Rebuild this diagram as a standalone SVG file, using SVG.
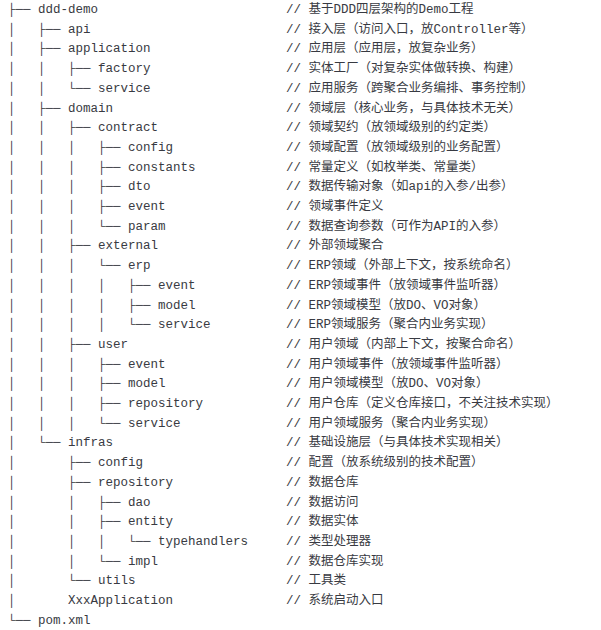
<svg xmlns="http://www.w3.org/2000/svg" width="601" height="630" viewBox="0 0 601 630">
<style>
text{font-family:"Liberation Mono","Noto Sans CJK SC",monospace;font-size:12.5px;fill:#383a42;white-space:pre}
</style>
<rect width="601" height="630" fill="#ffffff"/>
<g id="tree" xml:space="preserve">
<text x="8" y="13">├── ddd-demo</text>
<text x="8" y="32.7">│   ├── api</text>
<text x="8" y="52.4">│   ├── application</text>
<text x="8" y="72.1">│   │   ├── factory</text>
<text x="8" y="91.8">│   │   └── service</text>
<text x="8" y="111.5">│   ├── domain</text>
<text x="8" y="131.2">│   │   ├── contract</text>
<text x="8" y="150.9">│   │   │   ├── config</text>
<text x="8" y="170.6">│   │   │   ├── constants</text>
<text x="8" y="190.3">│   │   │   ├── dto</text>
<text x="8" y="210">│   │   │   ├── event</text>
<text x="8" y="229.7">│   │   │   └── param</text>
<text x="8" y="249.4">│   │   ├── external</text>
<text x="8" y="269.1">│   │   │   └── erp</text>
<text x="8" y="288.8">│   │   │   │   ├── event</text>
<text x="8" y="308.5">│   │   │   │   ├── model</text>
<text x="8" y="328.2">│   │   │   │   └── service</text>
<text x="8" y="347.9">│   │   ├── user</text>
<text x="8" y="367.6">│   │   │   ├── event</text>
<text x="8" y="387.3">│   │   │   ├── model</text>
<text x="8" y="407">│   │   │   ├── repository</text>
<text x="8" y="426.7">│   │   │   └── service</text>
<text x="8" y="446.4">│   └── infras</text>
<text x="8" y="466.1">│       ├── config</text>
<text x="8" y="485.8">│       ├── repository</text>
<text x="8" y="505.5">│       │   ├── dao</text>
<text x="8" y="525.2">│       │   ├── entity</text>
<text x="8" y="544.9">│       │   │   └── typehandlers</text>
<text x="8" y="564.6">│       │   └── impl</text>
<text x="8" y="584.3">│       └── utils</text>
<text x="8" y="604">│       XxxApplication</text>
<text x="8" y="623.7">└── pom.xml</text>
</g>
<g id="comments" xml:space="preserve">
<text x="286" y="13">// 基于DDD四层架构的Demo工程</text>
<text x="286" y="32.7">// 接入层（访问入口，放Controller等）</text>
<text x="286" y="52.4">// 应用层（应用层，放复杂业务）</text>
<text x="286" y="72.1">// 实体工厂（对复杂实体做转换、构建）</text>
<text x="286" y="91.8">// 应用服务（跨聚合业务编排、事务控制）</text>
<text x="286" y="111.5">// 领域层（核心业务，与具体技术无关）</text>
<text x="286" y="131.2">// 领域契约（放领域级别的约定类）</text>
<text x="286" y="150.9">// 领域配置（放领域级别的业务配置）</text>
<text x="286" y="170.6">// 常量定义（如枚举类、常量类）</text>
<text x="286" y="190.3">// 数据传输对象（如api的入参/出参）</text>
<text x="286" y="210">// 领域事件定义</text>
<text x="286" y="229.7">// 数据查询参数（可作为API的入参）</text>
<text x="286" y="249.4">// 外部领域聚合</text>
<text x="286" y="269.1">// ERP领域（外部上下文，按系统命名）</text>
<text x="286" y="288.8">// ERP领域事件（放领域事件监听器）</text>
<text x="286" y="308.5">// ERP领域模型（放DO、VO对象）</text>
<text x="286" y="328.2">// ERP领域服务（聚合内业务实现）</text>
<text x="286" y="347.9">// 用户领域（内部上下文，按聚合命名）</text>
<text x="286" y="367.6">// 用户领域事件（放领域事件监听器）</text>
<text x="286" y="387.3">// 用户领域模型（放DO、VO对象）</text>
<text x="286" y="407">// 用户仓库（定义仓库接口，不关注技术实现）</text>
<text x="286" y="426.7">// 用户领域服务（聚合内业务实现）</text>
<text x="286" y="446.4">// 基础设施层（与具体技术实现相关）</text>
<text x="286" y="466.1">// 配置（放系统级别的技术配置）</text>
<text x="286" y="485.8">// 数据仓库</text>
<text x="286" y="505.5">// 数据访问</text>
<text x="286" y="525.2">// 数据实体</text>
<text x="286" y="544.9">// 类型处理器</text>
<text x="286" y="564.6">// 数据仓库实现</text>
<text x="286" y="584.3">// 工具类</text>
<text x="286" y="604">// 系统启动入口</text>
</g>
</svg>
